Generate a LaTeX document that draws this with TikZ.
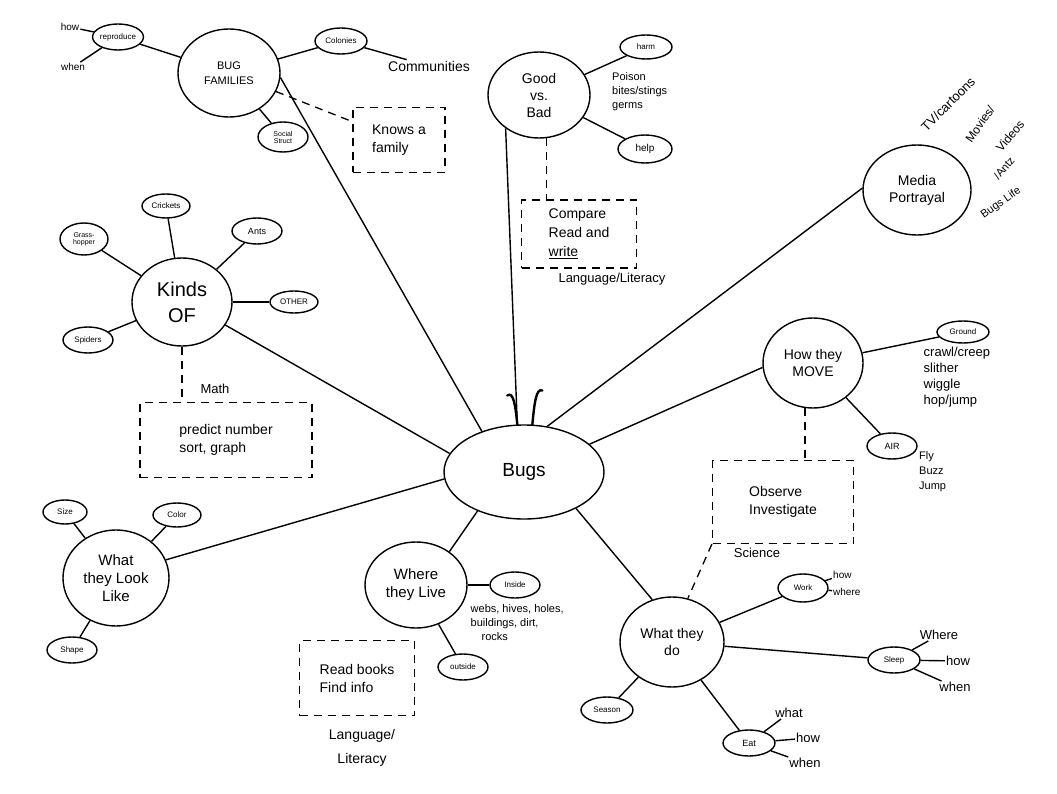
\documentclass[tikz,border=0pt]{standalone}
\usepackage{fontspec}
\setmainfont{Liberation Sans}
\usetikzlibrary{shapes.geometric}
\tikzset{topic/.style={ellipse,draw,line width=1.4pt,minimum width=102pt,minimum height=88pt,inner sep=0pt,align=center,font=\fontsize{14}{17}\selectfont}}
\tikzset{sub/.style={ellipse,draw,line width=1.4pt,minimum width=50pt,minimum height=26pt,inner sep=0pt,align=center,font=\fontsize{8}{8}\selectfont}}
\tikzset{note/.style={draw,line width=1.3pt,dash pattern=on 8pt off 6pt,align=left,font=\fontsize{14}{18}\selectfont}}
\tikzset{dashy/.style={line width=1.3pt,dash pattern=on 8pt off 6pt}}
\tikzset{l/.style={inner sep=0.5pt,font=\fontsize{13}{16}\selectfont}}
\tikzset{m/.style={inner sep=0.5pt,font=\fontsize{10}{12}\selectfont}}

\begin{document}
\begin{tikzpicture}[x=1pt,y=-1pt,every edge/.style={draw,line width=1.4pt},line width=1.4pt]
\useasboundingbox (0,0) rectangle (1057,794);
% centre
\node[topic,minimum width=160pt,minimum height=94pt,font=\fontsize{19}{20}\selectfont] (Bugs) at (524,472) {Bugs};
\draw[line width=2.4pt,line cap=round] (Bugs.98) .. controls +(-2,-20) and +(6,-4) .. +(-10,-29);
\draw[line width=2.4pt,line cap=round] (Bugs.80) .. controls +(2,-22) and +(-6,-3) .. +(10,-34);

% bug families
\node[topic,font=\fontsize{11}{15}\selectfont] (Families) at (229,73) {BUG\\FAMILIES};
\draw (Families.-5) -- (Bugs.136);
\node[sub] (Repro) at (118,37) {reproduce} edge (Families);
\node[m] (ReproHow) at (70,27) {how} edge (Repro);
\node[m] (ReproWhen) at (73,67) {when} edge (Repro);
\node[sub,minimum width=52pt] (Colonies) at (341,41) {Colonies} edge (Families);
\node[l,font=\fontsize{14}{16}\selectfont] (Communities) at (429,66) {Communities} edge (Colonies);
\node[sub,minimum height=30pt,font=\fontsize{7}{7}\selectfont] (Social) at (283,137) {Social\\Struct} edge (Families);
\node[note,minimum width=92pt,minimum height=65pt] (Knows) at (399,140) {Knows a\\family};
\draw[dashy] (Families) -- (Knows);

% good vs bad
\node[topic,minimum height=86pt] (GoodBad) at (539,95) {Good\\vs.\\Bad};
\draw (GoodBad.-135) -- (Bugs.98);
\node[sub,minimum width=52pt,minimum height=24pt] (Harm) at (646,47) {harm} edge (GoodBad);
\node[sub,minimum width=54pt,minimum height=28pt,font=\fontsize{10}{10}\selectfont] (Help) at (645,149) {help} edge (GoodBad);
\node[m,align=left,anchor=west,font=\fontsize{11}{14}\selectfont] (Poison) at (611,92) {Poison\\bites/stings\\germs};
\node[note,minimum width=115pt,minimum height=68pt,font=\fontsize{14}{19}\selectfont] (Compare) at (579,234) {Compare\\Read and\\\underline{write}};
\draw[dashy] (GoodBad.-80) -- (GoodBad.-80 |- Compare.north);
\node[l] (LangA) at (612,279) {Language/Literacy};

% media
\node[topic,minimum width=108pt,minimum height=90pt] (Media) at (917,190) {Media\\Portrayal};
\draw (Bugs.63) -- (Media.178);
\node[l,rotate=45,inner sep=0pt] (TV) at (948,104) {TV/cartoons};
\node[m,rotate=55,inner sep=0pt,font=\fontsize{12}{12}\selectfont] (Movies) at (980,124) {Movies/};
\node[m,rotate=50,inner sep=0pt,font=\fontsize{12}{12}\selectfont] (Videos) at (1010,136) {Videos};
\node[m,rotate=50,inner sep=0pt,font=\fontsize{11}{11}\selectfont] (Antz) at (1004,168) {/Antz};
\node[m,rotate=35,inner sep=0pt,font=\fontsize{11}{11}\selectfont] (BugsLife) at (1001,203) {Bugs Life};

% kinds of
\node[topic,minimum width=100pt,font=\fontsize{20}{26}\selectfont] (Kinds) at (182,302) {Kinds\\OF};
\draw (Kinds.-28) -- (Bugs.166);
\node[sub,minimum width=48pt,minimum height=24pt] (Crickets) at (166,206) {Crickets} edge (Kinds);
\node[sub,minimum width=48pt,minimum height=32pt,font=\fontsize{7}{7}\selectfont] (Grass) at (84,239) {Grass-\\hopper} edge (Kinds);
\node[sub,font=\fontsize{9}{9}\selectfont] (Ants) at (257,231) {Ants} edge (Kinds);
\node[sub,minimum width=48pt,minimum height=22pt] (Other) at (294,302) {OTHER} edge (Kinds);
\node[sub] (Spiders) at (88,340) {Spiders} edge (Kinds);
\node[note,minimum width=172pt,minimum height=75pt] (MathBox) at (226,440) {predict number\\sort, graph};
\draw[dashy] (Kinds.south) -- (Kinds.south |- MathBox.north);
\node[m,font=\fontsize{13}{13}\selectfont] (Math) at (215,389) {Math};

% how they move
\node[topic,minimum width=100pt,minimum height=90pt] (Move) at (813,363) {How they\\MOVE};
\draw (Move.185) -- (Bugs.23);
\node[sub,minimum width=52pt,minimum height=22pt] (Ground) at (963,332) {Ground} edge (Move);
\node[l,align=left,anchor=north west,inner sep=0pt] (Crawl) at (923,346) {crawl/creep\\slither\\wiggle\\hop/jump};
\node[sub,font=\fontsize{9}{9}\selectfont] (Air) at (892,446) {AIR} edge (Move);
\node[m,align=left,anchor=west,font=\fontsize{11}{15}\selectfont] (Fly) at (918,472) {Fly\\Buzz\\Jump};
\node[note,minimum width=141pt,minimum height=83pt] (Observe) at (783,502) {Observe\\Investigate};
\draw[dashy] (Move.-100) -- (Move.-100 |- Observe.north);
\node[l,fill=white,inner sep=1pt] (Science) at (757,553) {Science};

% what they do
\node[topic,minimum width=104pt,minimum height=90pt] (WhatDo) at (672,642) {What they\\do};
\draw (WhatDo.115) -- (Bugs.-35);
\draw[dashy] (Observe.south west) -- (WhatDo.70);
\node[sub,minimum height=28pt] (Work) at (803,588) {Work} edge (WhatDo);
\node[m,anchor=west] (WorkHow) at (832,575) {how} edge (Work);
\node[m,anchor=west] (WorkWhere) at (832,592) {where} edge (Work);
\node[sub,minimum width=52pt] (Sleep) at (894,660) {Sleep} edge (WhatDo);
\node[l] (SleepWhere) at (939,635) {Where} edge (Sleep);
\node[l] (SleepHow) at (958,661) {how} edge (Sleep);
\node[l] (SleepWhen) at (955,687) {when} edge (Sleep);
\node[sub,minimum width=52pt,font=\fontsize{9}{9}\selectfont] (Eat) at (749,743) {Eat} edge (WhatDo);
\node[l] (EatWhat) at (789,713) {what} edge (Eat);
\node[l] (EatHow) at (808,738) {how} edge (Eat);
\node[l] (EatWhen) at (805,763) {when} edge (Eat);
\node[sub,minimum width=52pt] (Season) at (607,710) {Season} edge (WhatDo);

% where they live
\node[topic,minimum height=86pt,font=\fontsize{15}{18}\selectfont] (Live) at (416,585) {Where\\they Live};
\draw (Live.45) -- (Bugs.220);
\node[sub] (Inside) at (515,585) {Inside} edge (Live);
\node[sub] (Outside) at (463,667) {outside} edge (Live);
\node[m,align=left,anchor=north west,inner sep=0pt,font=\fontsize{11}{14}\selectfont] (Webs) at (470,604) {webs, hives, holes,\\buildings, dirt,\\\quad rocks};
\node[note,minimum width=115pt,minimum height=75pt] (Read) at (357,678) {Read books\\Find info};
\node[l,align=center,font=\fontsize{14}{24}\selectfont] (LangB) at (362,748) {Language/\\Literacy};

% what they look like
\node[topic,minimum width=106pt,minimum height=96pt,font=\fontsize{15}{18}\selectfont] (Look) at (116,578) {What\\they Look\\Like};
\draw (Look.20) -- (Bugs.185);
\node[sub,minimum width=44pt,minimum height=24pt] (Size) at (65,512) {Size} edge (Look);
\node[sub,minimum width=48pt,minimum height=24pt] (Color) at (177,515) {Color} edge (Look);
\node[sub] (Shape) at (72,650) {Shape} edge (Look);
\end{tikzpicture}
\end{document}
